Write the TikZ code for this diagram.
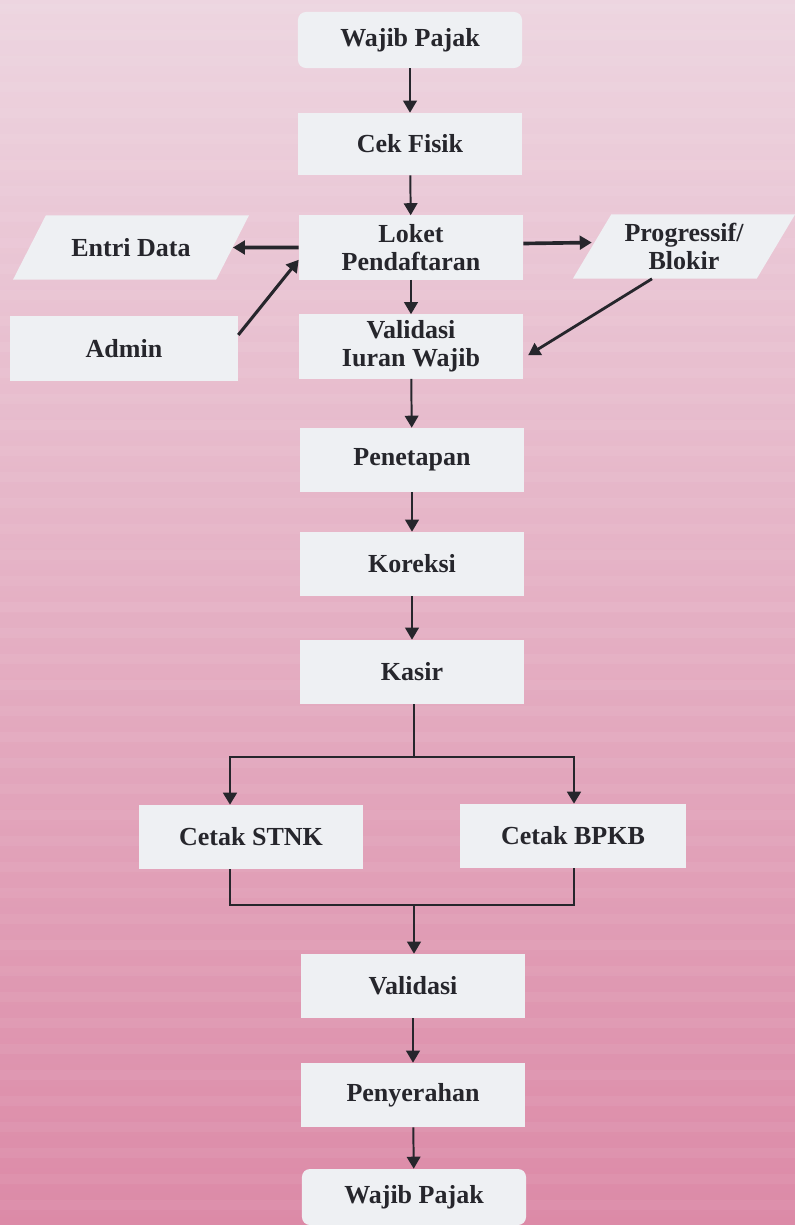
\documentclass[tikz,border=0pt]{standalone}
\usepackage{fontspec}
\setmainfont{Liberation Serif}
\usepackage{xcolor}
\usetikzlibrary{arrows.meta,shapes.geometric}

\definecolor{bgtop}{HTML}{EDD5E0}
\definecolor{bgmid}{HTML}{E2A5BC}
\definecolor{bgbot}{HTML}{DC8AA7}
\definecolor{boxfill}{HTML}{EEF0F3}
\definecolor{inkdark}{HTML}{26262C}

\begin{document}
\begin{tikzpicture}[x=0.025cm, y=-0.025cm, >={Triangle[length=0.3cm,width=0.34cm]}]
        \tikzstyle{stepbox}=[fill=boxfill,text=inkdark,minimum width=5.6cm,minimum height=1.6cm,inner sep=2pt,align=center,font=\fontsize{18.5}{20}\selectfont\bfseries]
        \tikzstyle{endbox}=[stepbox,rounded corners=0.2cm,minimum height=1.4cm]
        \tikzstyle{iobox}=[stepbox,trapezium,trapezium left angle=58,trapezium right angle=122,trapezium stretches=true]
        \tikzstyle{flow}=[draw=inkdark,line width=1.4pt]
        \tikzstyle{bold}=[draw=inkdark,line width=2.6pt]

        % background
        \useasboundingbox (0,0) rectangle (795,1225);
        \shade [top color=bgtop, middle color=bgmid, bottom color=bgbot] (0,0) rectangle (795,1225);
        \foreach \k in {0,...,46}
            \fill [white, opacity=0.05] (0,\k*26+4) rectangle (795,\k*26+14);

        \draw node at (410, 40) [endbox] (wp1) {Wajib Pajak};
        \draw node at (410, 144) [stepbox, minimum height=1.55cm] (cek) {Cek Fisik};
        \draw node at (411, 247.5) [stepbox] (loket) {Loket\\Pendaftaran};
        \draw node at (131, 247.5) [iobox, trapezium left angle=45, trapezium right angle=135, minimum width=5.9cm] (entri) {Entri Data};
        \draw node at (684, 246.5) [iobox, minimum width=5.55cm] (prog) {Progressif/\\Blokir};
        \draw node at (124, 348.5) [stepbox, minimum width=5.7cm] (admin) {Admin};
        \draw node at (411, 346.5) [stepbox] (iuran) {Validasi\\Iuran Wajib};
        \draw node at (412, 460) [stepbox] (tetap) {Penetapan};
        \draw node at (412, 564) [stepbox] (koreksi) {Koreksi};
        \draw node at (412, 672) [stepbox] (kasir) {Kasir};
        \draw node at (251, 837) [stepbox] (stnk) {Cetak STNK};
        \draw node at (573, 836) [stepbox, minimum width=5.65cm] (bpkb) {Cetak BPKB};
        \draw node at (413, 986) [stepbox] (validasi) {Validasi};
        \draw node at (413, 1095) [stepbox] (serah) {Penyerahan};
        \draw node at (414, 1197) [endbox] (wp2) {Wajib Pajak};

        \coordinate (split) at (414, 757);
        \coordinate (bl) at (230, 757);
        \coordinate (br) at (574, 757);
        \coordinate (merge) at (414, 905);
        \coordinate (ml) at (230, 905);
        \coordinate (mr) at (574, 905);

        \draw [->, flow] (wp1) to (cek);
        \draw [->, flow] (cek) to (loket);
        \draw [->, bold] (loket) to (entri);
        \draw [->, bold] ([yshift=0.1cm]loket.east) to ([yshift=0.1cm]prog.west);
        \draw [->, line width=2.2pt, draw=inkdark] ([yshift=0.34cm]admin.east) to ([yshift=0.5cm]loket.south west);
        \draw [->, flow] (loket) to (iuran);
        \draw [->, line width=2pt, draw=inkdark] ([xshift=-0.8cm]prog.south) to ([xshift=0.12cm,yshift=-0.22cm]iuran.east);
        \draw [->, flow] (iuran) to (tetap);
        \draw [->, flow] (tetap) to (koreksi);
        \draw [->, flow] (koreksi) to (kasir);
        \draw [line width=2pt, draw=inkdark] (kasir.south -| split) -- (split);
        \draw [->, line width=2pt, draw=inkdark] (split) -- (bl) -- (bl |- stnk.north);
        \draw [->, line width=2pt, draw=inkdark] (split) -- (br) -- (br |- bpkb.north);
        \draw [line width=2pt, draw=inkdark] (stnk.south -| ml) -- (ml) -- (mr) -- (bpkb.south -| mr);
        \draw [->, flow] (merge) to (validasi.north -| merge);
        \draw [->, flow] (validasi) to (serah);
        \draw [->, flow] (serah) to (wp2);
    \end{tikzpicture}
\end{document}
